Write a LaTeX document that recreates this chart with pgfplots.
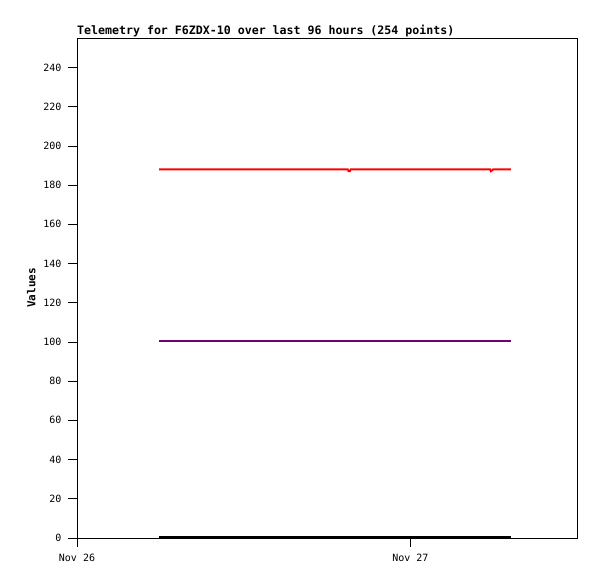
\documentclass[border=0pt]{standalone}
\usepackage{fontspec}
\setmainfont{DejaVu Sans Mono}
\usepackage{pgfplots}
\pgfplotsset{compat=1.18}
\definecolor{tpurple}{RGB}{115,0,115}
\begin{document}
\begin{tikzpicture}
\useasboundingbox (-77bp,-41bp) rectangle (520bp,538bp);
\begin{axis}[
  at={(0,0)}, anchor=south west,
  scale only axis, width=500bp, height=500bp,
  xmin=0, xmax=36, ymin=0, ymax=255,
  xtick={0,24}, xticklabels={Nov 26,Nov 27},
  ytick={0,20,...,240},
  tick align=outside, major tick length=9bp,
  xtick pos=bottom, ytick pos=left,
  ticklabel style={font=\fontsize{10bp}{12bp}\selectfont},
  /pgf/number format/assume math mode=true,
  yticklabel style={xshift=-3bp},
  xticklabel style={yshift=-4bp},
  axis line style={line width=0.6bp},
  tick style={line width=0.6bp, black},
  title={\bfseries Telemetry for F6ZDX-10 over last 96 hours (254 points)},
  title style={at={(0,1)}, anchor=south west, inner xsep=0pt, yshift=-8bp, font=\fontsize{11.6bp}{13bp}\selectfont},
  ylabel={\bfseries Values},
  ylabel style={font=\fontsize{11bp}{13bp}\selectfont, yshift=1bp},
  clip=false,
]
\addplot[red, line width=1.8bp] coordinates {
(5.91,188) (10,188) (15,188) (19.50,188) (19.55,187) (19.65,187) (19.70,188)
(25,188) (29.75,188) (29.80,187) (29.90,187.5) (29.95,188) (31.23,188)};
\addplot[tpurple, line width=1.8bp] coordinates {
(5.91,100.5) (12,100.5) (18,100.5) (24,100.5) (31.23,100.5)};
\addplot[black, line width=1.8bp] coordinates {
(5.91,0.4) (12,0.4) (18,0.4) (24,0.4) (31.23,0.4)};
\end{axis}
\end{tikzpicture}
\end{document}
